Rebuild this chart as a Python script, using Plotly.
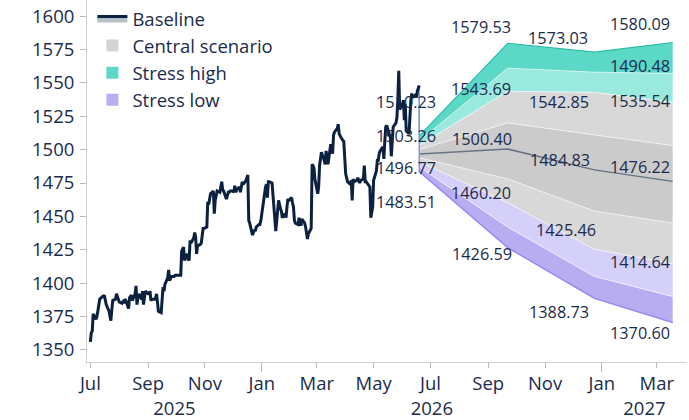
import pandas as pd
import plotly.graph_objects as go

NAVY = "#1b2b4b"
LINE_DARK = "#0b213f"

# Daily closing level, one value per business day from 1 Jul 2025
close = [
    1356, 1363, 1364, 1377, 1373, 1375, 1379, 1384, 1388, 1390,
    1390, 1391, 1388, 1384, 1379, 1376, 1372, 1380, 1387, 1388,
    1392, 1390, 1388, 1386, 1385, 1386, 1385, 1388, 1387, 1381,
    1389, 1390, 1391, 1387, 1392, 1398, 1384, 1389, 1392, 1388,
    1394, 1384, 1390, 1394, 1392, 1392, 1394, 1387, 1388, 1388,
    1389, 1392, 1386, 1379, 1378, 1392, 1397, 1394, 1399, 1404,
    1410, 1402, 1404, 1405, 1405, 1406, 1406, 1406, 1406, 1406,
    1424, 1426, 1427, 1417, 1422, 1418, 1417, 1432, 1430, 1434,
    1438, 1434, 1422, 1428, 1429, 1430, 1436, 1441, 1441, 1442,
    1461, 1459, 1463, 1467, 1469, 1452, 1462, 1466, 1469, 1468,
    1472, 1476, 1470, 1469, 1463, 1467, 1468, 1468, 1469, 1469,
    1468, 1473, 1468, 1470, 1472, 1468, 1471, 1476, 1474, 1477,
    1479, 1481, 1447, 1445, 1436, 1439, 1440, 1439, 1442, 1444,
    1444, 1447, 1453, 1459, 1472, 1474, 1464, 1476, 1476, 1475,
    1466, 1464, 1451, 1439, 1462, 1458, 1456, 1454, 1449, 1452,
    1449, 1457, 1463, 1462, 1464, 1460, 1457, 1447, 1445, 1444,
    1449, 1446, 1443, 1448, 1445, 1442, 1438, 1433, 1437, 1441,
    1489, 1488, 1486, 1478, 1467, 1472, 1488, 1493, 1498, 1492,
    1489, 1499, 1494, 1489, 1504, 1500, 1497, 1511, 1513, 1516,
    1519, 1512, 1510, 1509, 1506, 1492, 1482, 1479, 1476, 1474,
    1477, 1462, 1478, 1476, 1477, 1479, 1476, 1475, 1477, 1478,
    1488, 1476, 1476, 1475, 1472, 1449, 1452, 1457, 1477, 1484,
    1492, 1492, 1497, 1499, 1502, 1493, 1506, 1517, 1518, 1512,
    1509, 1495, 1506, 1517, 1520, 1524, 1537, 1559, 1530, 1534,
    1537, 1522, 1534, 1514, 1512, 1529, 1537, 1542, 1539, 1541,
    1539, 1544, 1546, 1548,
]
hist_dates = pd.bdate_range("2025-07-01", periods=len(close))

# Scenario horizon and band boundaries
fc_dates = ["2026-06-19", "2026-09-22", "2026-12-24", "2027-03-18"]
high_outer = [1510.23, 1579.53, 1573.03, 1580.09]
high_mid = [1506.5, 1561.0, 1558.0, 1557.0]
central_upper = [1503.26, 1543.69, 1542.85, 1535.54]
inner_upper = [1500.0, 1520.0, 1511.0, 1503.0]
central = [1496.77, 1500.40, 1484.83, 1476.22]
inner_lower = [1494.0, 1478.0, 1454.0, 1445.0]
central_lower = [1491.0, 1460.20, 1425.46, 1414.64]
low_mid = [1487.0, 1442.0, 1405.0, 1390.0]
low_outer = [1483.51, 1426.59, 1388.73, 1370.60]
extra_value = 1490.48

x_range = ["2025-06-27 09:00", "2027-04-02 09:00"]

# year labels sit in the middle of the visible part of each year
r0, r1 = pd.Timestamp(x_range[0]), pd.Timestamp(x_range[1])
year_vals, year_text = [], []
for yr in range(r0.year, r1.year + 1):
    a = max(pd.Timestamp(yr, 1, 1), r0)
    b = min(pd.Timestamp(yr + 1, 1, 1), r1)
    year_vals.append(a + (b - a) / 2)
    year_text.append(str(yr))

fig = go.Figure()

# stacked scenario bands, bottom to top
bands = [
    (low_outer, None),
    (low_mid, "#b9adf2"),
    (central_lower, "#d5d0fa"),
    (inner_lower, "#d8d8d8"),
    (inner_upper, "#cbcbcb"),
    (central_upper, "#d8d8d8"),
    (high_mid, "#9ae9df"),
    (high_outer, "#5cd8c7"),
]
for ys, color in bands:
    fig.add_trace(go.Scatter(
        x=fc_dates, y=ys, mode="lines",
        line=dict(color="rgba(255,255,255,0.6)", width=1),
        fill=None if color is None else "tonexty",
        fillcolor=color, showlegend=False, hoverinfo="skip",
    ))

# central path
fig.add_trace(go.Scatter(
    x=fc_dates, y=central, mode="lines",
    line=dict(color="#667384", width=1.5),
    showlegend=False, hoverinfo="skip",
))

# outer edges joined to the last observed level
join_x = [hist_dates[-1]] + fc_dates
fig.add_trace(go.Scatter(
    x=join_x, y=[close[-1]] + high_outer, mode="lines",
    line=dict(color="#25bca6", width=1.2), showlegend=False, hoverinfo="skip",
))
fig.add_trace(go.Scatter(
    x=join_x, y=[close[-1]] + low_outer, mode="lines",
    line=dict(color="#9a8aee", width=1.5), showlegend=False, hoverinfo="skip",
))

# history
fig.add_trace(go.Scatter(
    x=hist_dates, y=close, mode="lines",
    line=dict(color="rgba(0,0,0,0)", width=0),
    showlegend=False, hoverinfo="skip",
))
fig.add_trace(go.Scatter(
    x=hist_dates, y=close, mode="lines", name="Baseline",
    line=dict(color=LINE_DARK, width=3),
    fill="tonexty", fillcolor="rgba(175,184,194,0.9)",
    legendrank=1,
))

# legend swatches
for name, color, rank in [("Central scenario", "#d3d3d3", 2),
                          ("Stress high", "#5cd8c7", 3),
                          ("Stress low", "#b9b0f2", 4)]:
    fig.add_trace(go.Scatter(
        x=[None], y=[None], mode="markers", name=name,
        marker=dict(symbol="square", size=12, color=color),
        legendrank=rank,
    ))

# helper traces for the overlaid axes
for ax in ("x2", "x3"):
    fig.add_trace(go.Scatter(
        x=[fc_dates[0]], y=[None], xaxis=ax, mode="lines",
        showlegend=False, hoverinfo="skip",
    ))

# value labels: (series, index, dx, dy)
labels = [
    (high_outer, 0, -13, 34), (central_upper, 0, -13, 9),
    (central, 0, -13, -14), (low_outer, 0, -13, -30),
    (high_outer, 1, -27, 16), (central_upper, 1, -27, 2),
    (central, 1, -26, 10), (central_lower, 1, -27, 10),
    (low_outer, 1, -26, -6),
    (high_outer, 2, -36, 14), (central_upper, 2, -35, -10),
    (central, 2, -34, 10), (central_lower, 2, -28, 19),
    (low_outer, 2, -35, -14),
    (high_outer, 3, -33, 19), (central_upper, 3, -33, 1),
    (central, 3, -33, 14), (central_lower, 3, -33, 2),
    (low_outer, 3, -33, -11),
]
LABEL_FONT = dict(size=16.3, color=NAVY)
annotations = []
for series, i, dx, dy in labels:
    annotations.append(dict(
        x=fc_dates[i], y=series[i], xref="x", yref="y",
        text=f"{series[i]:.2f}", showarrow=False,
        xanchor="center", yanchor="middle", xshift=dx, yshift=dy,
        font=LABEL_FONT,
    ))
annotations.append(dict(
    x=fc_dates[3], y=extra_value, xref="x", yref="y",
    text=f"{extra_value:.2f}", showarrow=False,
    xanchor="center", yanchor="middle", xshift=-33, yshift=96,
    font=LABEL_FONT,
))

TICK_FONT = dict(size=18.5, color=NAVY)
fig.update_layout(
    width=689, height=420,
    margin=dict(l=87, r=2, t=0, b=58),
    plot_bgcolor="white", paper_bgcolor="white",
    font=dict(family="Open Sans", color=NAVY),
    legend=dict(x=0.009, y=1.0, xanchor="left", yanchor="top",
                bgcolor="rgba(0,0,0,0)", font=dict(size=18.5, color=NAVY),
                traceorder="normal"),
    annotations=annotations,
    xaxis=dict(
        type="date", range=x_range, dtick="M2", tick0="2025-07-01",
        tickformat="%b", ticks="outside", ticklen=5, tickcolor="#b8b8b8",
        showline=True, linecolor="#d0d0d0", showgrid=False, zeroline=False,
        tickfont=TICK_FONT,
    ),
    xaxis2=dict(
        type="date", range=x_range, overlaying="x", anchor="y", side="bottom",
        dtick="M12", tick0="2026-01-01", showticklabels=False,
        ticks="outside", ticklen=9, tickcolor="#b8b8b8", showline=False,
        showgrid=False, zeroline=False,
    ),
    xaxis3=dict(
        type="date", range=x_range, overlaying="x", anchor="y", side="bottom",
        tickvals=year_vals, ticktext=year_text,
        ticks="outside", ticklen=9, tickcolor="rgba(0,0,0,0)", showline=False,
        showgrid=False, zeroline=False, ticklabelstandoff=21,
        tickfont=TICK_FONT,
    ),
    yaxis=dict(
        range=[1341, 1612], dtick=25, ticks="outside", ticklen=6,
        tickcolor="#b8b8b8", showline=True, linecolor="#d0d0d0",
        showgrid=False, zeroline=False, tickfont=TICK_FONT,
        ticklabelstandoff=2,
    ),
)

fig.write_html("out.html")
